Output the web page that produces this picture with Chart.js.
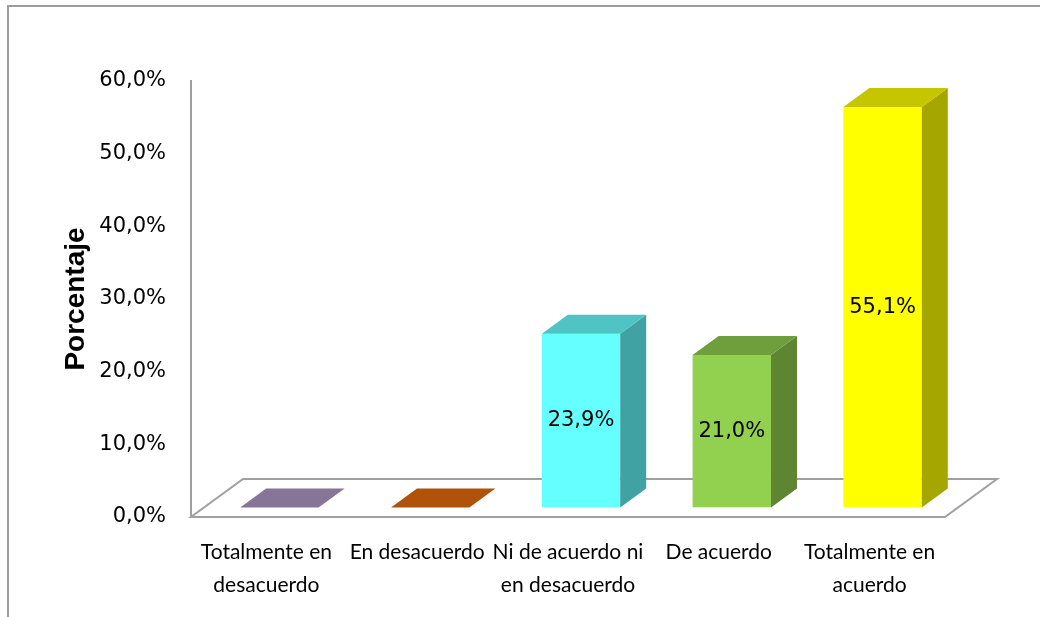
<!DOCTYPE html>
<html>
<head>
<meta charset="utf-8">
<script src="https://cdn.jsdelivr.net/npm/chart.js@4/dist/chart.umd.min.js"></script>
<style>
  body { margin: 0; background: #fff; }
  canvas { display: block; }
</style>
</head>
<body>
<canvas id="grafica" width="1040" height="617"></canvas>
<script>
// datos
var categorias = [['Totalmente en', 'desacuerdo'], 'En desacuerdo', ['Ni de acuerdo ni', 'en desacuerdo'], 'De acuerdo', ['Totalmente en', 'acuerdo']];
var porcentajes = [0, 0, 23.9, 21.0, 55.1];
var ejeMin = 0, ejeMax = 60, ejePaso = 10;

// colores de cada barra: frente, lado, tapa
var colorFrente = ['#8064A2', '#C55A11', '#66FFFF', '#92D050', '#FFFF00'];
var colorLado = ['#5E4A78', '#8A3F0C', '#40A2A2', '#5E8532', '#A6A600'];
var colorTapa = ['#877598', '#B05209', '#50C4C4', '#6F9F3C', '#C6C600'];

// profundidad del suelo y de las barras
var PISO_DX = 52, PISO_DY = -38;
var BARRA_OX = 13, BARRA_OY = -9.5;
var BARRA_DX = 26, BARRA_DY = -19;

function formatoPct(v) {
    return v.toFixed(1).replace('.', ',') + '%';
}

function poligono(ctx, pts, color) {
    ctx.beginPath();
    ctx.moveTo(pts[0][0], pts[0][1]);
    for (var i = 1; i < pts.length; i++) ctx.lineTo(pts[i][0], pts[i][1]);
    ctx.closePath();
    ctx.fillStyle = color;
    ctx.fill();
}

var barras3d = {
    id: 'barras3d',
    beforeDraw: function (chart) {
        var ctx = chart.ctx;
        ctx.save();
        ctx.strokeStyle = '#9C9C9C';
        ctx.lineWidth = 2;
        ctx.beginPath();
        ctx.moveTo(8, 617);
        ctx.lineTo(8, 6);
        ctx.lineTo(1040, 6);
        ctx.stroke();
        ctx.restore();
    },
    beforeDatasetsDraw: function (chart) {
        var ctx = chart.ctx;
        var x = chart.scales.x, y = chart.scales.y;
        var base = y.getPixelForValue(0);
        ctx.save();
        ctx.strokeStyle = '#A0A0A0';
        ctx.lineWidth = 2;
        ctx.beginPath();
        ctx.moveTo(x.left, base);
        ctx.lineTo(x.right, base);
        ctx.lineTo(x.right + PISO_DX, base + PISO_DY);
        ctx.lineTo(x.left + PISO_DX, base + PISO_DY);
        ctx.closePath();
        ctx.stroke();
        ctx.restore();
        // el frente de las barras va a media profundidad
        ctx.save();
        ctx.translate(BARRA_OX, BARRA_OY);
    },
    afterDatasetsDraw: function (chart) {
        var ctx = chart.ctx;
        ctx.restore();
        var meta = chart.getDatasetMeta(0);
        meta.data.forEach(function (el, i) {
            var x0 = el.x - el.width / 2 + BARRA_OX;
            var x1 = el.x + el.width / 2 + BARRA_OX;
            var top = el.y + BARRA_OY;
            var bot = el.base + BARRA_OY;
            if (bot - top > 0.5) {
                poligono(ctx, [[x1, top], [x1 + BARRA_DX, top + BARRA_DY], [x1 + BARRA_DX, bot + BARRA_DY], [x1, bot]], colorLado[i]);
            }
            poligono(ctx, [[x0, top], [x1, top], [x1 + BARRA_DX, top + BARRA_DY], [x0 + BARRA_DX, top + BARRA_DY]], colorTapa[i]);
            if (porcentajes[i] > 0) {
                ctx.save();
                ctx.font = '21px "DejaVu Sans"';
                ctx.fillStyle = '#000';
                ctx.textAlign = 'center';
                ctx.textBaseline = 'middle';
                ctx.fillText(formatoPct(porcentajes[i]), (x0 + x1) / 2, (top + bot) / 2);
                ctx.restore();
            }
        });
    }
};

const ctx = document.getElementById('grafica').getContext('2d');
const chart = new Chart(ctx, {
    type: 'bar',
    data: {
        labels: categorias,
        datasets: [{
            data: porcentajes,
            backgroundColor: colorFrente,
            borderWidth: 0,
            categoryPercentage: 1,
            barPercentage: 0.52
        }]
    },
    options: {
        responsive: false,
        animation: false,
        devicePixelRatio: 1,
        layout: {
            padding: { left: 0, top: 81, right: 95, bottom: 0 }
        },
        plugins: {
            legend: { display: false },
            tooltip: { enabled: false }
        },
        scales: {
            x: {
                grid: { display: false, drawTicks: false },
                border: { display: false },
                ticks: {
                    color: '#000',
                    padding: 19,
                    maxRotation: 0,
                    autoSkip: false,
                    font: { family: 'Lato, "Liberation Sans", sans-serif', size: 21, lineHeight: 1.57 }
                },
                afterFit: function (s) { s.height = 100; }
            },
            y: {
                min: ejeMin,
                max: ejeMax,
                grid: { display: false, drawTicks: false },
                border: { display: true, color: '#A0A0A0', width: 2 },
                ticks: {
                    stepSize: ejePaso,
                    color: '#000',
                    padding: 25,
                    font: { family: '"DejaVu Sans"', size: 21 },
                    callback: function (v) { return formatoPct(v); }
                },
                title: {
                    display: true,
                    text: 'Porcentaje',
                    color: '#000',
                    padding: { top: 59, bottom: 0 },
                    font: { family: '"Liberation Sans"', size: 28, weight: 'bold', lineHeight: 1.2 }
                },
                afterFit: function (s) { s.width = 191; }
            }
        }
    },
    plugins: [barras3d]
});
</script>
</body>
</html>
